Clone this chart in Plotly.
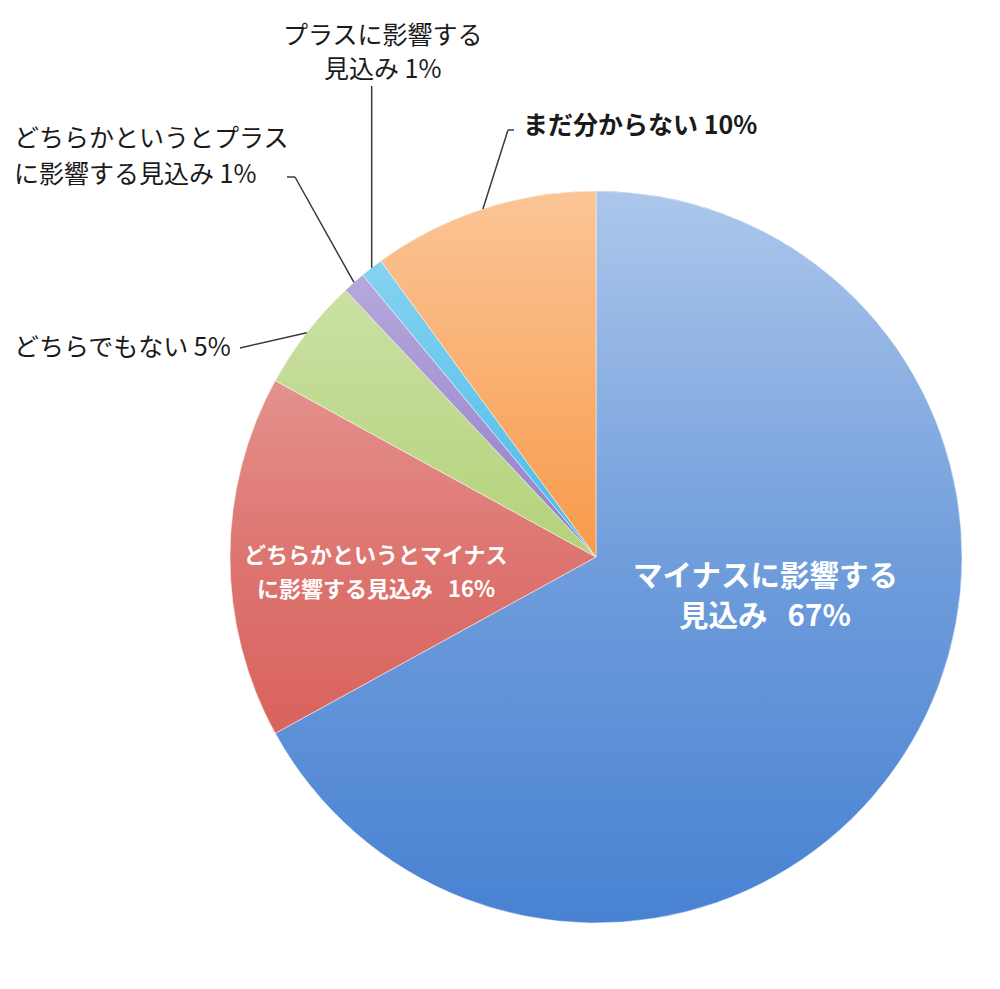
import base64
import math
import plotly.graph_objects as go

# slices, clockwise from 12 o'clock
labels = [
    "マイナスに影響する見込み",
    "どちらかというとマイナスに影響する見込み",
    "どちらでもない",
    "どちらかというとプラスに影響する見込み",
    "プラスに影響する見込み",
    "まだ分からない",
]
values = [67, 16, 5, 1, 1, 10]
# base colours; a white sheen on top lightens them towards the top
colors = ["#4882D2", "#D44E48", "#9EC654", "#7559BB", "#12A8E2", "#F67E17"]

# how each label is broken onto lines in the picture
label_lines = [
    ["マイナスに影響する", "見込み"],
    ["どちらかというとマイナス", "に影響する見込み"],
    ["どちらでもない"],
    ["どちらかというとプラス", "に影響する見込み"],
    ["プラスに影響する", "見込み"],
    ["まだ分からない"],
]

W, H = 1000, 989
OFF = 8                     # page body margin
CX, CY, R = 596, 557, 366   # pie centre / radius in pixels
FONT = "Noto Sans CJK JP"


def px(x):
    return (x - OFF) / W


def py(y):
    return 1 - (y - OFF) / H


def edge_point(i):
    # point on the rim at the middle of slice i
    total = sum(values)
    mid = (sum(values[:i]) + values[i] / 2) / total * 2 * math.pi
    return CX + R * math.sin(mid), CY - R * math.cos(mid)


fig = go.Figure()

fig.add_trace(go.Pie(
    labels=labels,
    values=values,
    sort=False,
    direction="clockwise",
    rotation=0,
    marker=dict(colors=colors, line=dict(color="rgba(255,255,255,0.6)", width=0.8)),
    textinfo="none",
    hoverinfo="label+percent",
    domain=dict(x=[px(CX - R), px(CX + R)], y=[py(CY + R), py(CY - R)]),
    showlegend=False,
))

# vertical sheen over the pie (the original has gradient fills)
D = 2 * R
sheen = (
    f'<svg xmlns="http://www.w3.org/2000/svg" width="{D}" height="{D}" viewBox="0 0 {D} {D}">'
    '<defs><linearGradient id="g" x1="0" y1="0" x2="0" y2="1">'
    '<stop offset="0" stop-color="white" stop-opacity="0.55"/>'
    '<stop offset="0.5" stop-color="white" stop-opacity="0.22"/>'
    '<stop offset="1" stop-color="white" stop-opacity="0"/>'
    f'</linearGradient></defs><circle cx="{R}" cy="{R}" r="{R}" fill="url(#g)"/></svg>'
)
sheen_src = "data:image/svg+xml;base64," + base64.b64encode(sheen.encode()).decode()

# (slice, x, anchor, line centres, size, colour, bold, gap before %)
placements = [
    (0, 765, "center", [573, 613], 29.5, "white", True, "\u00a0\u00a0\u00a0"),
    (1, 376, "center", [553, 587], 22, "white", True, "\u00a0\u00a0\u00a0"),
    (2, 12, "left", [345], 25, "#1a1a1a", False, " "),
    (3, 12, "left", [136, 172], 25, "#1a1a1a", False, " "),
    (4, 383, "center", [33, 67], 25, "#1a1a1a", False, " "),
    (5, 521, "left", [123], 25, "#1a1a1a", True, " "),
]

annotations = []
for i, x, anchor, ys, size, color, bold, gap in placements:
    lines = list(label_lines[i])
    lines[-1] = lines[-1] + gap + f"{values[i]}%"
    for line, y in zip(lines, ys):
        txt = f"<b>{line}</b>" if bold else line
        annotations.append(dict(
            x=px(x), y=py(y), xref="paper", yref="paper", showarrow=False,
            text=txt, xanchor=anchor, yanchor="middle",
            font=dict(size=size, color=color, family=FONT),
        ))

# leader lines from the rim to the outside labels
line_style = dict(color="#3a3a3a", width=1.5)
shapes = []


def seg(x0, y0, x1, y1):
    shapes.append(dict(type="line", xref="paper", yref="paper",
                       x0=px(x0), y0=py(y0), x1=px(x1), y1=py(y1), line=line_style))


gx, gy = edge_point(2)
seg(gx, gy, 240, 348)
ux, uy = edge_point(3)
seg(ux, uy, 295, 177)
seg(295, 177, 287, 177)
bx, by = edge_point(4)
seg(bx, by, bx, 86)
ox, oy = edge_point(5)
seg(ox, oy, 508, 130)
seg(508, 130, 514, 130)

fig.update_layout(
    width=W,
    height=H,
    margin=dict(l=0, r=0, t=0, b=0),
    paper_bgcolor="white",
    plot_bgcolor="white",
    annotations=annotations,
    shapes=shapes,
    images=[dict(
        source=sheen_src, xref="paper", yref="paper",
        x=px(CX - R), y=py(CY - R), sizex=D / W, sizey=D / H,
        xanchor="left", yanchor="top", sizing="stretch", layer="above",
    )],
    font=dict(family=FONT),
)

fig.write_html("out.html")
